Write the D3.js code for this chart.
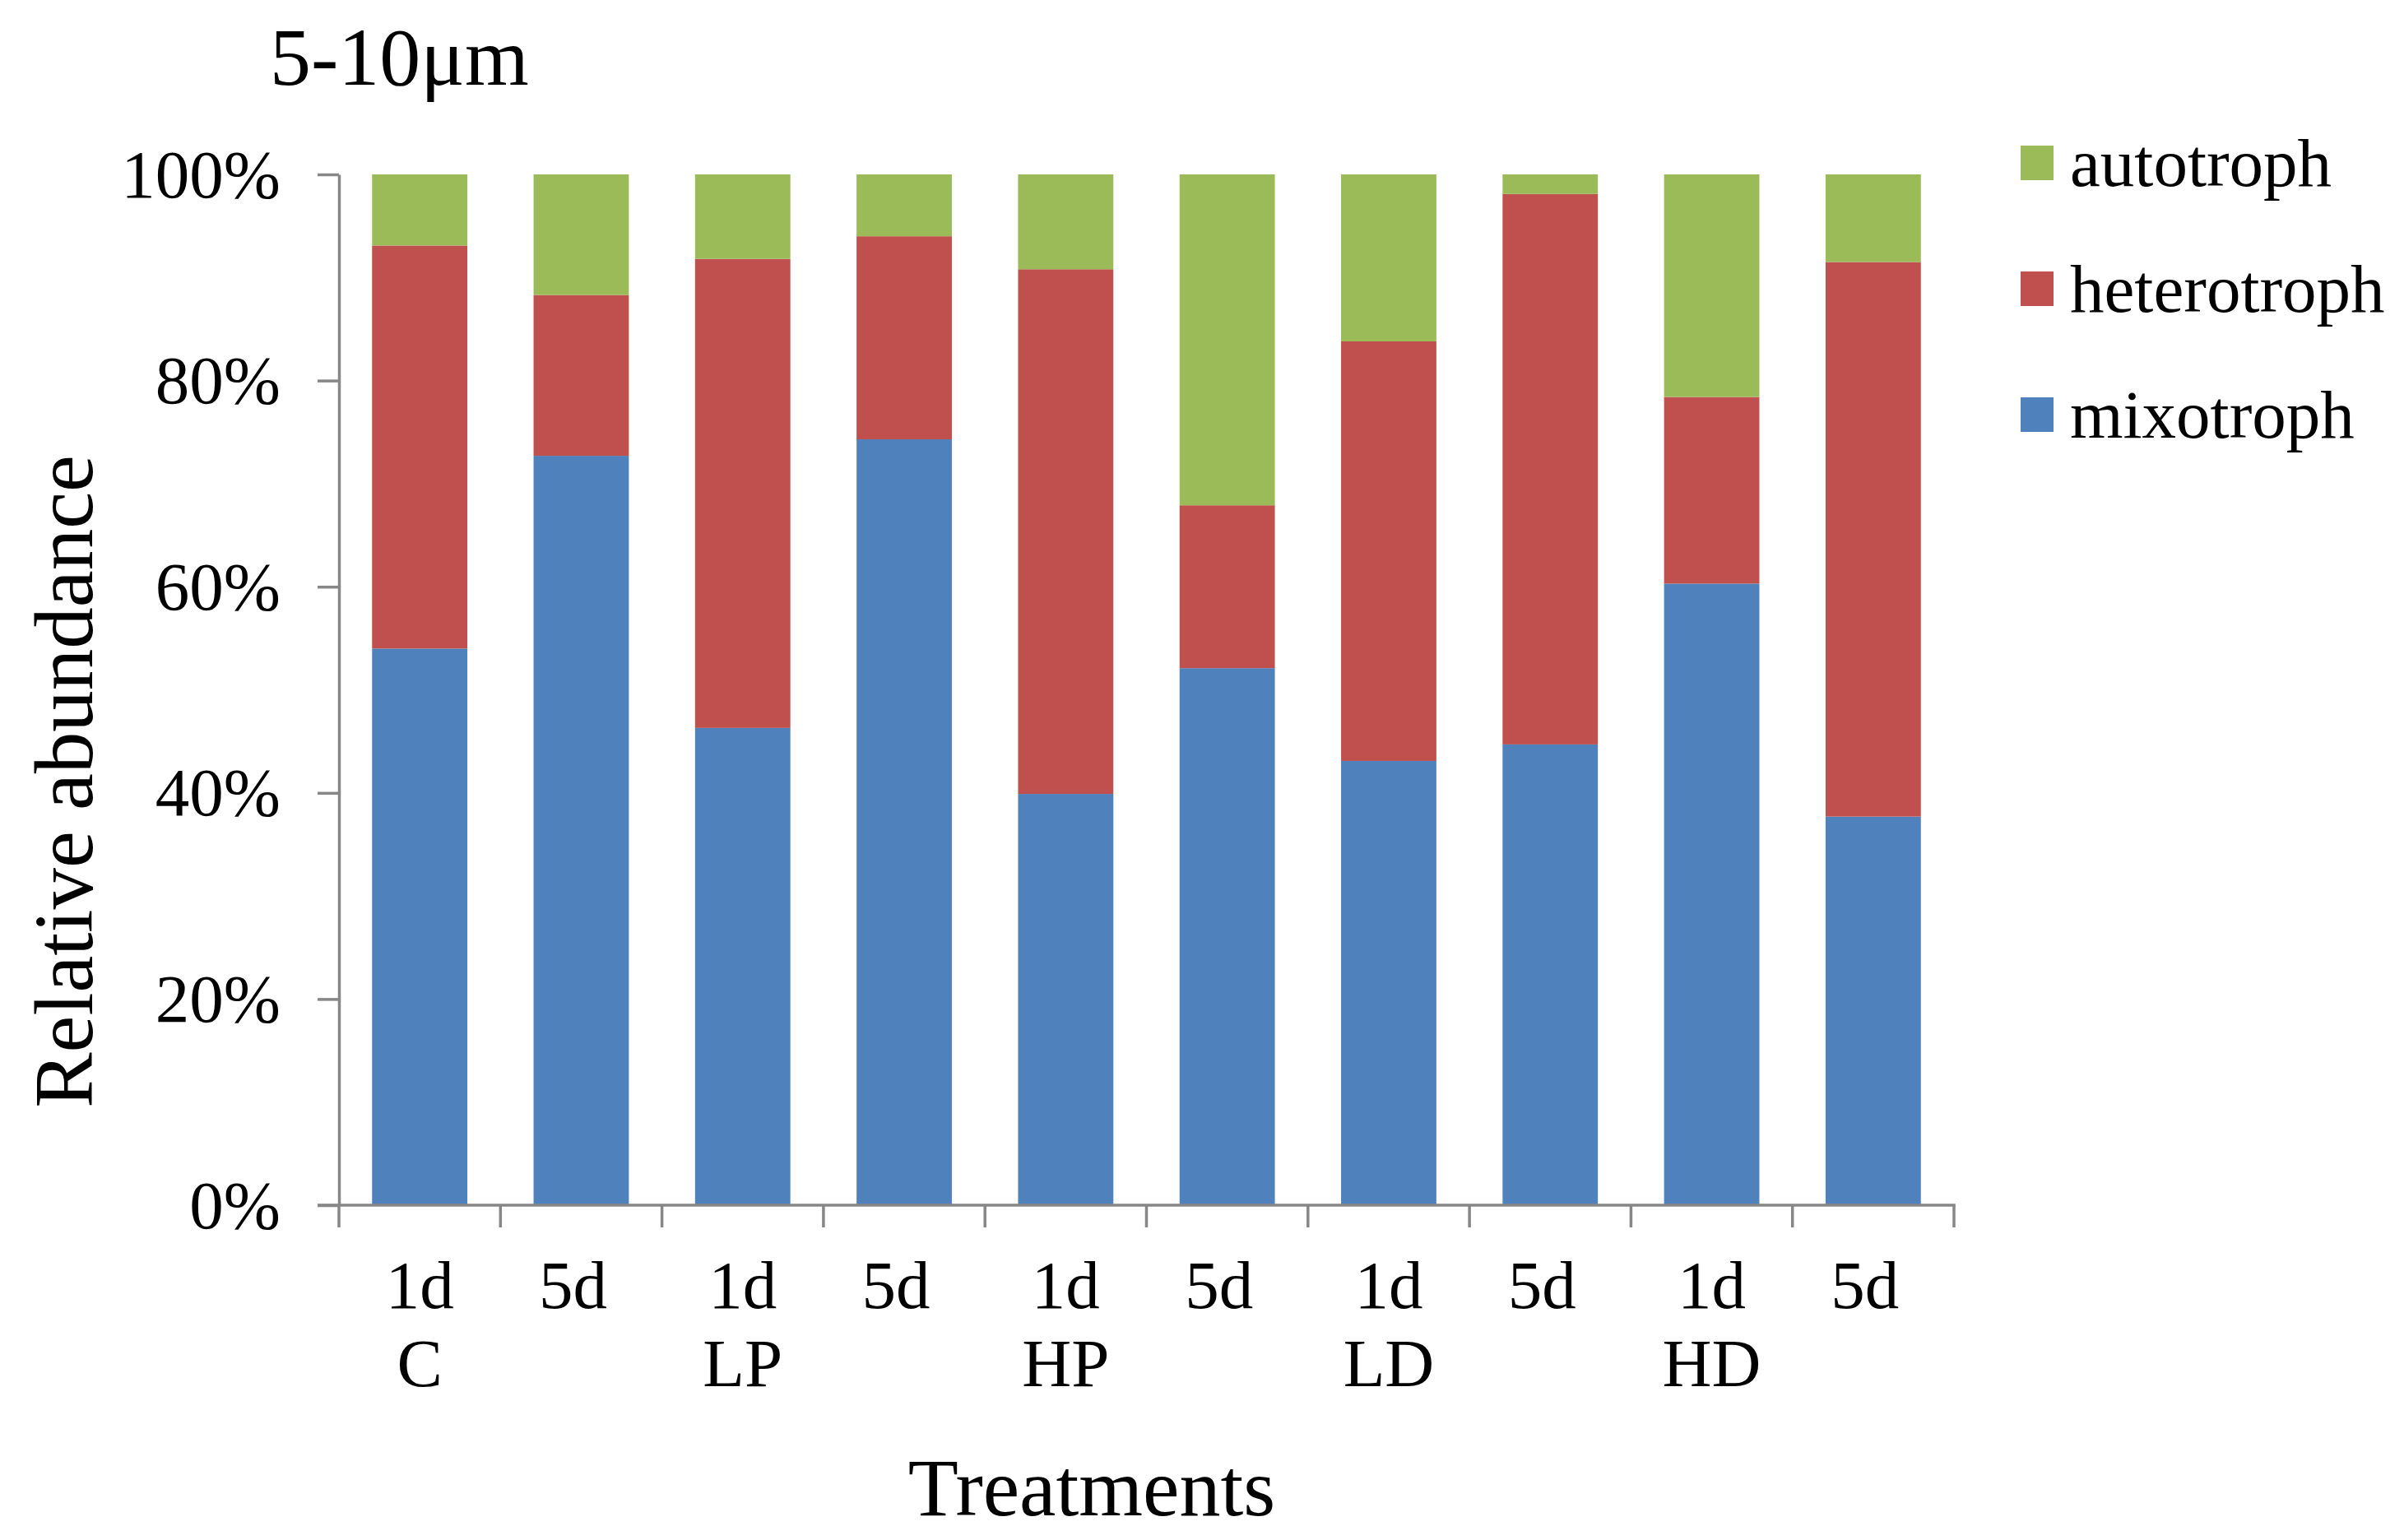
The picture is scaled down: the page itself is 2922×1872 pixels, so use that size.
<html>
<head>
    <script src="https://d3js.org/d3.v7.min.js" charset="utf-8"></script>
    <style>
        body { margin: 0; background: #fff; }
        text { font-family: "Liberation Serif", "Times New Roman", serif; fill: #000; }
    </style>
</head>
<body>
<script>
    // values (percent of each bar)
    const days = ['1d','5d','1d','5d','1d','5d','1d','5d','1d','5d'];
    const treatments = ['C','LP','HP','LD','HD'];
    const mixotroph   = [54.0, 72.7, 46.3, 74.3, 39.9, 52.1, 43.1, 44.7, 60.3, 37.7];
    const heterotroph = [39.1, 15.6, 45.5, 19.7, 50.9, 15.8, 40.7, 53.4, 18.1, 53.8];
    const autotroph   = [ 6.9, 11.7,  8.2,  6.0,  9.2, 32.1, 16.2,  1.9, 21.6,  8.5];
    const seriesNames = ['mixotroph','heterotroph','autotroph'];
    const seriesColors = ['#4f81bd','#c0504d','#9bbb59'];
    const yTicks = [0, 0.2, 0.4, 0.6, 0.8, 1];

    const w = 2922, h = 1872;
    const plotLeft = 412, plotRight = 2375, plotTop = 212, plotBottom = 1465;
    const axisColor = '#878787';

    const rows = days.map((d,i)=>({
        idx: i,
        mixotroph: mixotroph[i]/100,
        heterotroph: heterotroph[i]/100,
        autotroph: autotroph[i]/100
    }));

    const svg = d3.select('body').append('svg')
        .attr('width', w)
        .attr('height', h);

    const xScale = d3.scaleBand()
        .domain(d3.range(days.length))
        .range([plotLeft, plotRight])
        .paddingInner(0.41)
        .paddingOuter(0.205);

    const yScale = d3.scaleLinear().domain([0,1]).range([plotBottom, plotTop]);
    const color = d3.scaleOrdinal().domain(seriesNames).range(seriesColors);

    const stacked = d3.stack().keys(seriesNames)(rows);

    svg.append('g').selectAll('g')
        .data(stacked)
        .enter()
        .append('g')
        .attr('fill', d=>color(d.key))
        .selectAll('rect')
        .data(d=>d)
        .enter()
        .append('rect')
        .attr('x', d=>xScale(d.data.idx))
        .attr('y', d=>yScale(d[1]))
        .attr('width', xScale.bandwidth())
        .attr('height', d=>yScale(d[0]) - yScale(d[1]));

    // y axis
    const yAxis = d3.axisLeft(yScale)
        .tickValues(yTicks)
        .tickFormat(d3.format('.0%'))
        .tickSize(26)
        .tickPadding(45)
        .tickSizeOuter(0);

    const gy = svg.append('g')
        .attr('transform','translate('+plotLeft+',0)')
        .call(yAxis);
    gy.select('.domain').attr('stroke', axisColor).attr('stroke-width', 3.5);
    gy.selectAll('.tick line').attr('stroke', axisColor).attr('stroke-width', 3.5);
    gy.selectAll('.tick text')
        .attr('font-family','Liberation Serif')
        .attr('font-size', 83)
        .attr('dy', 27)
        .attr('fill', '#000');

    // x axis: labels at band centres, ticks at band boundaries
    const xAxis = d3.axisBottom(xScale)
        .tickFormat(i=>days[i])
        .tickSize(0)
        .tickSizeOuter(0);

    const gx = svg.append('g')
        .attr('transform','translate(0,'+plotBottom+')')
        .call(xAxis);
    gx.select('.domain').remove();
    gx.selectAll('.tick text')
        .attr('font-family','Liberation Serif')
        .attr('font-size', 83)
        .attr('y', 1590 - plotBottom)
        .attr('dy', 0)
        .attr('dx', i=>days[i]=='5d' ? -10 : 0)
        .attr('fill', '#000');

    const step = xScale.step();
    const boundaries = d3.range(days.length + 1).map(i=>plotLeft + i*step);

    gx.append('g').selectAll('line')
        .data(boundaries)
        .enter()
        .append('line')
        .attr('x1', d=>d).attr('x2', d=>d)
        .attr('y1', 0).attr('y2', 27)
        .attr('stroke', axisColor)
        .attr('stroke-width', 3.5);

    gx.append('line')
        .attr('x1', plotLeft - 26).attr('x2', plotRight + 1.75)
        .attr('y1', 0).attr('y2', 0)
        .attr('stroke', axisColor)
        .attr('stroke-width', 3.5);

    // treatment group labels under the 1d bars
    svg.append('g').selectAll('text')
        .data(treatments)
        .enter()
        .append('text')
        .attr('x', (d,i)=>xScale(i*2) + xScale.bandwidth()/2)
        .attr('y', 1685)
        .attr('text-anchor','middle')
        .attr('font-size', 83)
        .text(d=>d);

    // titles
    svg.append('text')
        .attr('x', 328)
        .attr('y', 103)
        .attr('font-size', 100)
        .text('5-10μm');

    svg.append('text')
        .attr('x', 1327)
        .attr('y', 1842)
        .attr('text-anchor','middle')
        .attr('font-size', 100)
        .text('Treatments');

    svg.append('text')
        .attr('transform','translate(112,950) rotate(-90)')
        .attr('text-anchor','middle')
        .attr('font-size', 101)
        .text('Relative abundance');

    // legend
    const legendOrder = seriesNames.slice().reverse();
    const legend = svg.append('g').attr('id','legend')
        .selectAll('g')
        .data(legendOrder)
        .enter()
        .append('g')
        .attr('transform',(d,i)=>'translate(2456,'+(197 + i*153)+')');

    legend.append('rect')
        .attr('x', 0)
        .attr('y', -20)
        .attr('width', 40)
        .attr('height', 42)
        .attr('fill', d=>color(d));

    legend.append('text')
        .attr('x', 60)
        .attr('y', 29)
        .attr('font-size', 83)
        .text(d=>d);
</script>
</body>
</html>
